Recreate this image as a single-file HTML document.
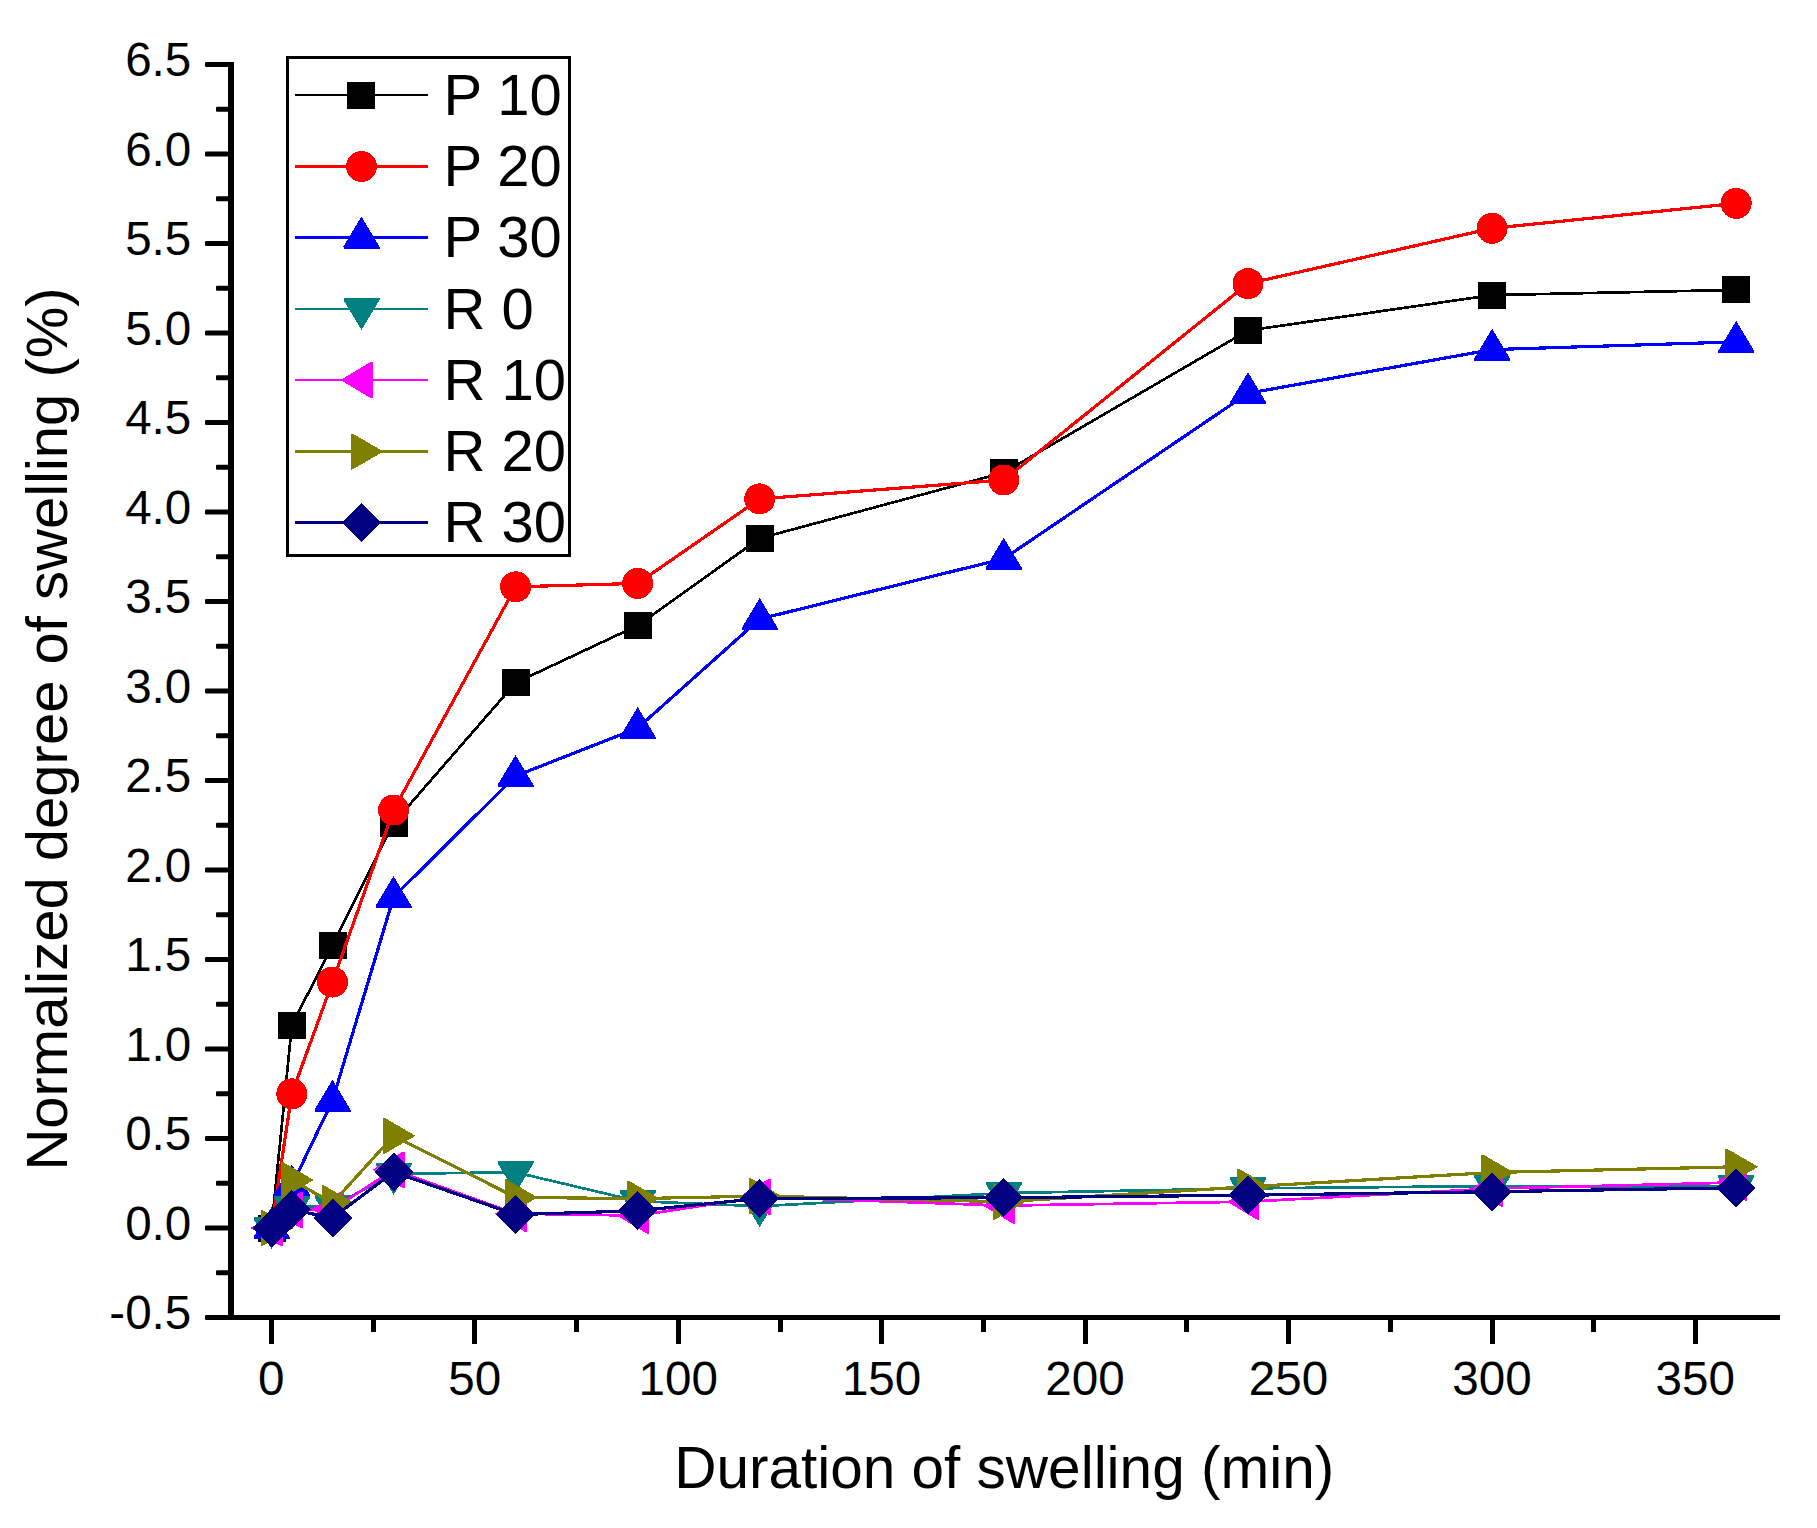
<!DOCTYPE html>
<html lang="en">
<head>
<meta charset="utf-8">
<title>Normalized degree of swelling</title>
<style>
html,body{margin:0;padding:0;background:#fff;}
body{width:1817px;height:1528px;overflow:hidden;}
svg{display:block;}
text{font-family:"Liberation Sans",Arial,Helvetica,sans-serif;fill:#000;}
.tick{font-size:47.6px;}
.big{font-size:58px;}
</style>
</head>
<body>
<svg width="1817" height="1528" viewBox="0 0 1817 1528">
<rect x="0" y="0" width="1817" height="1528" fill="#ffffff"/>

<g id="data" shape-rendering="crispEdges">
<polyline points="271.5,1228.0 291.8,1025.4 332.5,945.4 393.6,823.1 515.6,682.8 637.7,625.5 759.7,538.3 1003.8,472.6 1248.0,330.5 1492.1,295.1 1736.2,289.9" fill="none" stroke="#000000" stroke-width="2.7" stroke-linejoin="round"/>
<rect x="257.5" y="1214.5" width="28" height="27" fill="#000000"/>
<rect x="277.8" y="1011.9" width="28" height="27" fill="#000000"/>
<rect x="318.5" y="931.9" width="28" height="27" fill="#000000"/>
<rect x="379.6" y="809.6" width="28" height="27" fill="#000000"/>
<rect x="501.6" y="669.3" width="28" height="27" fill="#000000"/>
<rect x="623.7" y="612.0" width="28" height="27" fill="#000000"/>
<rect x="745.7" y="524.8" width="28" height="27" fill="#000000"/>
<rect x="989.8" y="459.1" width="28" height="27" fill="#000000"/>
<rect x="1234.0" y="317.0" width="28" height="27" fill="#000000"/>
<rect x="1478.1" y="281.6" width="28" height="27" fill="#000000"/>
<rect x="1722.2" y="276.4" width="28" height="27" fill="#000000"/>
<polyline points="271.5,1228.0 291.8,1093.8 332.5,982.1 393.6,810.0 515.6,586.8 637.7,583.4 759.7,498.9 1003.8,480.0 1248.0,283.6 1492.1,228.3 1736.2,203.4" fill="none" stroke="#ff0000" stroke-width="3.2" stroke-linejoin="round"/>
<circle cx="271.5" cy="1228.0" r="15.5" fill="#ff0000"/>
<circle cx="291.8" cy="1093.8" r="15.5" fill="#ff0000"/>
<circle cx="332.5" cy="982.1" r="15.5" fill="#ff0000"/>
<circle cx="393.6" cy="810.0" r="15.5" fill="#ff0000"/>
<circle cx="515.6" cy="586.8" r="15.5" fill="#ff0000"/>
<circle cx="637.7" cy="583.4" r="15.5" fill="#ff0000"/>
<circle cx="759.7" cy="498.9" r="15.5" fill="#ff0000"/>
<circle cx="1003.8" cy="480.0" r="15.5" fill="#ff0000"/>
<circle cx="1248.0" cy="283.6" r="15.5" fill="#ff0000"/>
<circle cx="1492.1" cy="228.3" r="15.5" fill="#ff0000"/>
<circle cx="1736.2" cy="203.4" r="15.5" fill="#ff0000"/>
<polyline points="271.5,1228.0 291.8,1185.6 332.5,1100.6 393.6,897.0 515.6,776.0 637.7,728.1 759.7,619.0 1003.8,558.7 1248.0,393.3 1492.1,349.6 1736.2,341.9" fill="none" stroke="#0000ff" stroke-width="3.2" stroke-linejoin="round"/>
<polygon points="271.5,1207.0 289.5,1237.0 289.5,1239.0 253.5,1239.0 253.5,1237.0" fill="#0000ff"/>
<polygon points="291.8,1164.6 309.8,1194.6 309.8,1196.6 273.8,1196.6 273.8,1194.6" fill="#0000ff"/>
<polygon points="332.5,1079.6 350.5,1109.6 350.5,1111.6 314.5,1111.6 314.5,1109.6" fill="#0000ff"/>
<polygon points="393.6,876.0 411.6,906.0 411.6,908.0 375.6,908.0 375.6,906.0" fill="#0000ff"/>
<polygon points="515.6,755.0 533.6,785.0 533.6,787.0 497.6,787.0 497.6,785.0" fill="#0000ff"/>
<polygon points="637.7,707.1 655.7,737.1 655.7,739.1 619.7,739.1 619.7,737.1" fill="#0000ff"/>
<polygon points="759.7,598.0 777.7,628.0 777.7,630.0 741.7,630.0 741.7,628.0" fill="#0000ff"/>
<polygon points="1003.8,537.7 1021.8,567.7 1021.8,569.7 985.8,569.7 985.8,567.7" fill="#0000ff"/>
<polygon points="1248.0,372.3 1266.0,402.3 1266.0,404.3 1230.0,404.3 1230.0,402.3" fill="#0000ff"/>
<polygon points="1492.1,328.6 1510.1,358.6 1510.1,360.6 1474.1,360.6 1474.1,358.6" fill="#0000ff"/>
<polygon points="1736.2,320.9 1754.2,350.9 1754.2,352.9 1718.2,352.9 1718.2,350.9" fill="#0000ff"/>
<polyline points="271.5,1228.0 291.8,1207.2 332.5,1206.2 393.6,1173.8 515.6,1172.3 637.7,1201.2 759.7,1206.2 1003.8,1193.1 1248.0,1188.4 1492.1,1186.1 1736.2,1186.3" fill="none" stroke="#008080" stroke-width="2.7" stroke-linejoin="round"/>
<polygon points="271.5,1249.0 289.5,1219.0 289.5,1217.0 253.5,1217.0 253.5,1219.0" fill="#008080"/>
<polygon points="291.8,1228.2 309.8,1198.2 309.8,1196.2 273.8,1196.2 273.8,1198.2" fill="#008080"/>
<polygon points="332.5,1227.2 350.5,1197.2 350.5,1195.2 314.5,1195.2 314.5,1197.2" fill="#008080"/>
<polygon points="393.6,1194.8 411.6,1164.8 411.6,1162.8 375.6,1162.8 375.6,1164.8" fill="#008080"/>
<polygon points="515.6,1193.3 533.6,1163.3 533.6,1161.3 497.6,1161.3 497.6,1163.3" fill="#008080"/>
<polygon points="637.7,1222.2 655.7,1192.2 655.7,1190.2 619.7,1190.2 619.7,1192.2" fill="#008080"/>
<polygon points="759.7,1227.2 777.7,1197.2 777.7,1195.2 741.7,1195.2 741.7,1197.2" fill="#008080"/>
<polygon points="1003.8,1214.1 1021.8,1184.1 1021.8,1182.1 985.8,1182.1 985.8,1184.1" fill="#008080"/>
<polygon points="1248.0,1209.4 1266.0,1179.4 1266.0,1177.4 1230.0,1177.4 1230.0,1179.4" fill="#008080"/>
<polygon points="1492.1,1207.1 1510.1,1177.1 1510.1,1175.1 1474.1,1175.1 1474.1,1177.1" fill="#008080"/>
<polygon points="1736.2,1207.3 1754.2,1177.3 1754.2,1175.3 1718.2,1175.3 1718.2,1177.3" fill="#008080"/>
<polyline points="271.5,1228.0 291.8,1210.1 332.5,1209.2 393.6,1169.8 515.6,1213.7 637.7,1215.6 759.7,1196.9 1003.8,1205.6 1248.0,1201.7 1492.1,1188.6 1736.2,1182.5" fill="none" stroke="#ff00ff" stroke-width="2.7" stroke-linejoin="round"/>
<polygon points="250.5,1228.0 280.5,1210.0 282.5,1210.0 282.5,1246.0 280.5,1246.0" fill="#ff00ff"/>
<polygon points="270.8,1210.1 300.8,1192.1 302.8,1192.1 302.8,1228.1 300.8,1228.1" fill="#ff00ff"/>
<polygon points="311.5,1209.2 341.5,1191.2 343.5,1191.2 343.5,1227.2 341.5,1227.2" fill="#ff00ff"/>
<polygon points="372.6,1169.8 402.6,1151.8 404.6,1151.8 404.6,1187.8 402.6,1187.8" fill="#ff00ff"/>
<polygon points="494.6,1213.7 524.6,1195.7 526.6,1195.7 526.6,1231.7 524.6,1231.7" fill="#ff00ff"/>
<polygon points="616.7,1215.6 646.7,1197.6 648.7,1197.6 648.7,1233.6 646.7,1233.6" fill="#ff00ff"/>
<polygon points="738.7,1196.9 768.7,1178.9 770.7,1178.9 770.7,1214.9 768.7,1214.9" fill="#ff00ff"/>
<polygon points="982.8,1205.6 1012.8,1187.6 1014.8,1187.6 1014.8,1223.6 1012.8,1223.6" fill="#ff00ff"/>
<polygon points="1227.0,1201.7 1257.0,1183.7 1259.0,1183.7 1259.0,1219.7 1257.0,1219.7" fill="#ff00ff"/>
<polygon points="1471.1,1188.6 1501.1,1170.6 1503.1,1170.6 1503.1,1206.6 1501.1,1206.6" fill="#ff00ff"/>
<polygon points="1715.2,1182.5 1745.2,1164.5 1747.2,1164.5 1747.2,1200.5 1745.2,1200.5" fill="#ff00ff"/>
<polyline points="271.5,1228.0 291.8,1180.0 332.5,1203.1 393.6,1135.8 515.6,1197.4 637.7,1198.6 759.7,1196.1 1003.8,1201.7 1248.0,1186.8 1492.1,1172.5 1736.2,1166.8" fill="none" stroke="#808000" stroke-width="3.2" stroke-linejoin="round"/>
<polygon points="293.5,1228.0 262.5,1210.0 260.5,1210.0 260.5,1246.0 262.5,1246.0" fill="#808000"/>
<polygon points="313.8,1180.0 282.8,1162.0 280.8,1162.0 280.8,1198.0 282.8,1198.0" fill="#808000"/>
<polygon points="354.5,1203.1 323.5,1185.1 321.5,1185.1 321.5,1221.1 323.5,1221.1" fill="#808000"/>
<polygon points="415.6,1135.8 384.6,1117.8 382.6,1117.8 382.6,1153.8 384.6,1153.8" fill="#808000"/>
<polygon points="537.6,1197.4 506.6,1179.4 504.6,1179.4 504.6,1215.4 506.6,1215.4" fill="#808000"/>
<polygon points="659.7,1198.6 628.7,1180.6 626.7,1180.6 626.7,1216.6 628.7,1216.6" fill="#808000"/>
<polygon points="781.7,1196.1 750.7,1178.1 748.7,1178.1 748.7,1214.1 750.7,1214.1" fill="#808000"/>
<polygon points="1025.8,1201.7 994.8,1183.7 992.8,1183.7 992.8,1219.7 994.8,1219.7" fill="#808000"/>
<polygon points="1270.0,1186.8 1239.0,1168.8 1237.0,1168.8 1237.0,1204.8 1239.0,1204.8" fill="#808000"/>
<polygon points="1514.1,1172.5 1483.1,1154.5 1481.1,1154.5 1481.1,1190.5 1483.1,1190.5" fill="#808000"/>
<polygon points="1758.2,1166.8 1727.2,1148.8 1725.2,1148.8 1725.2,1184.8 1727.2,1184.8" fill="#808000"/>
<polyline points="271.5,1228.0 291.8,1209.6 332.5,1218.0 393.6,1172.0 515.6,1214.6 637.7,1210.8 759.7,1198.5 1003.8,1197.7 1248.0,1195.2 1492.1,1191.7 1736.2,1187.8" fill="none" stroke="#000080" stroke-width="3.2" stroke-linejoin="round"/>
<polygon points="271.5,1208.5 291.0,1228.0 271.5,1247.5 252.0,1228.0" fill="#000080"/>
<polygon points="291.8,1190.1 311.3,1209.6 291.8,1229.1 272.3,1209.6" fill="#000080"/>
<polygon points="332.5,1198.5 352.0,1218.0 332.5,1237.5 313.0,1218.0" fill="#000080"/>
<polygon points="393.6,1152.5 413.1,1172.0 393.6,1191.5 374.1,1172.0" fill="#000080"/>
<polygon points="515.6,1195.1 535.1,1214.6 515.6,1234.1 496.1,1214.6" fill="#000080"/>
<polygon points="637.7,1191.3 657.2,1210.8 637.7,1230.3 618.2,1210.8" fill="#000080"/>
<polygon points="759.7,1179.0 779.2,1198.5 759.7,1218.0 740.2,1198.5" fill="#000080"/>
<polygon points="1003.8,1178.2 1023.3,1197.7 1003.8,1217.2 984.3,1197.7" fill="#000080"/>
<polygon points="1248.0,1175.7 1267.5,1195.2 1248.0,1214.7 1228.5,1195.2" fill="#000080"/>
<polygon points="1492.1,1172.2 1511.6,1191.7 1492.1,1211.2 1472.6,1191.7" fill="#000080"/>
<polygon points="1736.2,1168.3 1755.7,1187.8 1736.2,1207.3 1716.7,1187.8" fill="#000080"/>
</g>
<g id="axes" fill="#000" shape-rendering="crispEdges">
<rect x="228" y="62" width="6" height="1258"/>
<rect x="228" y="1315" width="1552" height="5"/>
<rect x="205" y="62.00" width="27" height="5" rx="1.2" shape-rendering="auto"/>
<rect x="205" y="151.50" width="27" height="5" rx="1.2" shape-rendering="auto"/>
<rect x="205" y="241.00" width="27" height="5" rx="1.2" shape-rendering="auto"/>
<rect x="205" y="330.50" width="27" height="5" rx="1.2" shape-rendering="auto"/>
<rect x="205" y="420.00" width="27" height="5" rx="1.2" shape-rendering="auto"/>
<rect x="205" y="509.50" width="27" height="5" rx="1.2" shape-rendering="auto"/>
<rect x="205" y="599.00" width="27" height="5" rx="1.2" shape-rendering="auto"/>
<rect x="205" y="688.50" width="27" height="5" rx="1.2" shape-rendering="auto"/>
<rect x="205" y="778.00" width="27" height="5" rx="1.2" shape-rendering="auto"/>
<rect x="205" y="867.50" width="27" height="5" rx="1.2" shape-rendering="auto"/>
<rect x="205" y="957.00" width="27" height="5" rx="1.2" shape-rendering="auto"/>
<rect x="205" y="1046.50" width="27" height="5" rx="1.2" shape-rendering="auto"/>
<rect x="205" y="1136.00" width="27" height="5" rx="1.2" shape-rendering="auto"/>
<rect x="205" y="1225.50" width="27" height="5" rx="1.2" shape-rendering="auto"/>
<rect x="205" y="1315.00" width="27" height="5" rx="1.2" shape-rendering="auto"/>
<rect x="216" y="106.75" width="16" height="5" rx="1" shape-rendering="auto"/>
<rect x="216" y="196.25" width="16" height="5" rx="1" shape-rendering="auto"/>
<rect x="216" y="285.75" width="16" height="5" rx="1" shape-rendering="auto"/>
<rect x="216" y="375.25" width="16" height="5" rx="1" shape-rendering="auto"/>
<rect x="216" y="464.75" width="16" height="5" rx="1" shape-rendering="auto"/>
<rect x="216" y="554.25" width="16" height="5" rx="1" shape-rendering="auto"/>
<rect x="216" y="643.75" width="16" height="5" rx="1" shape-rendering="auto"/>
<rect x="216" y="733.25" width="16" height="5" rx="1" shape-rendering="auto"/>
<rect x="216" y="822.75" width="16" height="5" rx="1" shape-rendering="auto"/>
<rect x="216" y="912.25" width="16" height="5" rx="1" shape-rendering="auto"/>
<rect x="216" y="1001.75" width="16" height="5" rx="1" shape-rendering="auto"/>
<rect x="216" y="1091.25" width="16" height="5" rx="1" shape-rendering="auto"/>
<rect x="216" y="1180.75" width="16" height="5" rx="1" shape-rendering="auto"/>
<rect x="216" y="1270.25" width="16" height="5" rx="1" shape-rendering="auto"/>
<rect x="269.0" y="1317" width="5" height="27"/>
<rect x="472.4" y="1317" width="5" height="27"/>
<rect x="675.9" y="1317" width="5" height="27"/>
<rect x="879.3" y="1317" width="5" height="27"/>
<rect x="1082.7" y="1317" width="5" height="27"/>
<rect x="1286.1" y="1317" width="5" height="27"/>
<rect x="1489.6" y="1317" width="5" height="27"/>
<rect x="1693.0" y="1317" width="5" height="27"/>
<rect x="370.7" y="1317" width="5" height="15"/>
<rect x="574.1" y="1317" width="5" height="15"/>
<rect x="777.6" y="1317" width="5" height="15"/>
<rect x="981.0" y="1317" width="5" height="15"/>
<rect x="1184.4" y="1317" width="5" height="15"/>
<rect x="1387.9" y="1317" width="5" height="15"/>
<rect x="1591.3" y="1317" width="5" height="15"/>
</g>
<g id="ylabels" class="tick" text-anchor="end">
<text x="191.3" y="76.0">6.5</text>
<text x="191.3" y="165.5">6.0</text>
<text x="191.3" y="255.0">5.5</text>
<text x="191.3" y="344.5">5.0</text>
<text x="191.3" y="434.0">4.5</text>
<text x="191.3" y="523.5">4.0</text>
<text x="191.3" y="613.0">3.5</text>
<text x="191.3" y="702.5">3.0</text>
<text x="191.3" y="792.0">2.5</text>
<text x="191.3" y="881.5">2.0</text>
<text x="191.3" y="971.0">1.5</text>
<text x="191.3" y="1060.5">1.0</text>
<text x="191.3" y="1150.0">0.5</text>
<text x="191.3" y="1239.5">0.0</text>
<text x="191.3" y="1329.0">-0.5</text>
</g>
<g id="xlabels" class="tick" text-anchor="middle">
<text x="271.3" y="1395">0</text>
<text x="474.7" y="1395">50</text>
<text x="678.2" y="1395">100</text>
<text x="881.6" y="1395">150</text>
<text x="1085.0" y="1395">200</text>
<text x="1288.4" y="1395">250</text>
<text x="1491.9" y="1395">300</text>
<text x="1695.3" y="1395">350</text>
</g>
<text class="big" style="font-size:58.5px" x="674.2" y="1488">Duration of swelling (min)</text>
<text class="big" transform="translate(67,1170.6) rotate(-90)">Normalized degree of swelling (%)</text>
<g id="legend">
<rect x="287.5" y="57.5" width="282" height="498" fill="#fff" stroke="#000" stroke-width="3" shape-rendering="crispEdges"/>
<g shape-rendering="crispEdges"><rect x="295" y="94.0" width="133" height="2" fill="#000000"/>
<rect x="347.0" y="82.0" width="28" height="27" fill="#000000"/></g>
<text class="big" x="443.5" y="114.6">P 10</text>
<g shape-rendering="crispEdges"><rect x="295" y="165.0" width="133" height="3" fill="#ff0000"/>
<circle cx="361.5" cy="166.5" r="15.5" fill="#ff0000"/></g>
<text class="big" x="443.5" y="186.1">P 20</text>
<g shape-rendering="crispEdges"><rect x="295" y="236.0" width="133" height="3" fill="#0000ff"/>
<polygon points="361.5,216.5 379.5,246.5 379.5,248.5 343.5,248.5 343.5,246.5" fill="#0000ff"/></g>
<text class="big" x="443.5" y="257.1">P 30</text>
<g shape-rendering="crispEdges"><rect x="295" y="308.0" width="133" height="2" fill="#008080"/>
<polygon points="361.5,330.0 379.5,300.0 379.5,298.0 343.5,298.0 343.5,300.0" fill="#008080"/></g>
<text class="big" x="443.5" y="328.6">R 0</text>
<g shape-rendering="crispEdges"><rect x="295" y="379.0" width="133" height="2" fill="#ff00ff"/>
<polygon points="340.5,380.0 370.5,362.0 372.5,362.0 372.5,398.0 370.5,398.0" fill="#ff00ff"/></g>
<text class="big" x="443.5" y="399.6">R 10</text>
<g shape-rendering="crispEdges"><rect x="295" y="450.0" width="133" height="3" fill="#808000"/>
<polygon points="383.5,451.5 352.5,433.5 350.5,433.5 350.5,469.5 352.5,469.5" fill="#808000"/></g>
<text class="big" x="443.5" y="471.1">R 20</text>
<g shape-rendering="crispEdges"><rect x="295" y="521.0" width="133" height="3" fill="#000080"/>
<polygon points="361.5,503.0 381.0,522.5 361.5,542.0 342.0,522.5" fill="#000080"/></g>
<text class="big" x="443.5" y="542.1">R 30</text>
</g>
</svg>
</body>
</html>
